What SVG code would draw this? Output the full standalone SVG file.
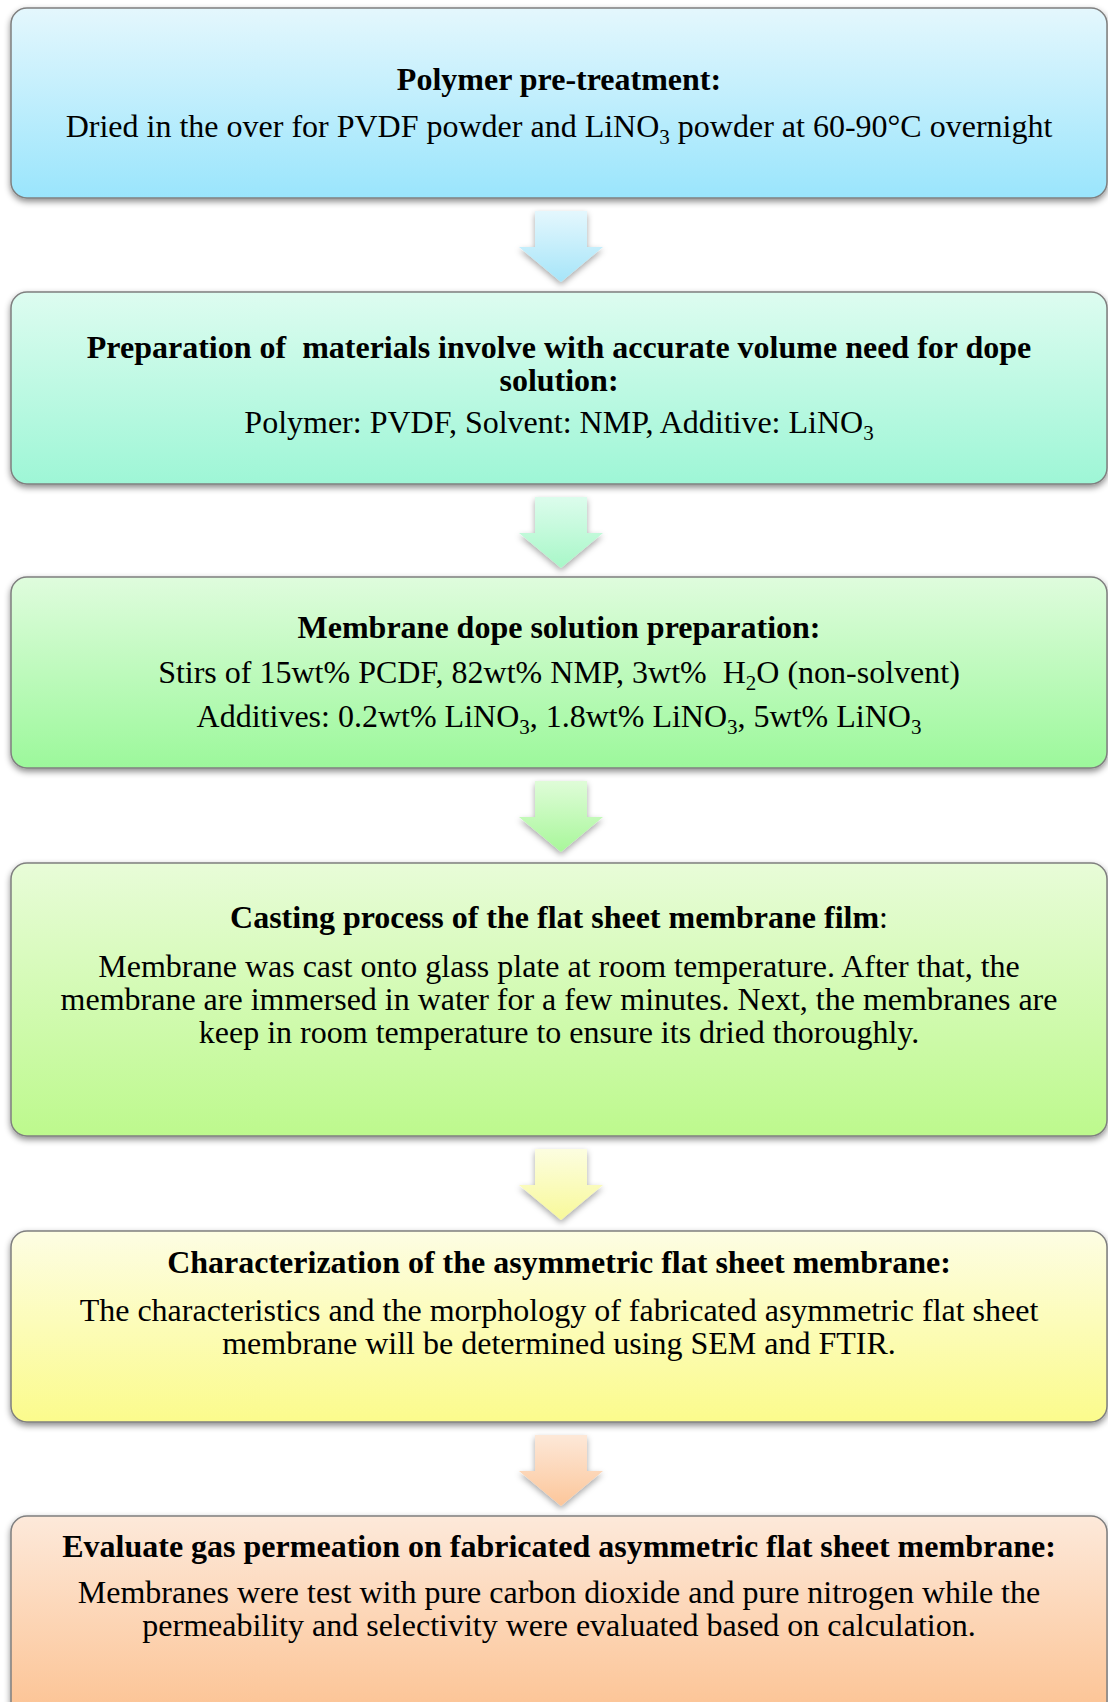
<svg xmlns="http://www.w3.org/2000/svg" width="1108" height="1702" viewBox="0 0 1108 1702">
<style>
text{font-family:"Liberation Serif","Times New Roman",serif;font-size:32px;fill:#000;text-anchor:middle;white-space:pre}
.t{font-weight:bold}
.box{stroke:#7f7f7f;stroke-width:1.5}
.arr{stroke:none}
</style>
<defs>
<filter id="sh" x="-5%" y="-10%" width="110%" height="125%">
<feDropShadow dx="0" dy="3" stdDeviation="3" flood-color="#000" flood-opacity="0.45"/>
</filter>
<filter id="ash" x="-30%" y="-20%" width="160%" height="150%">
<feDropShadow dx="0" dy="3" stdDeviation="3" flood-color="#000" flood-opacity="0.35"/>
</filter>
<linearGradient id="g1" x1="0" y1="0" x2="0" y2="1"><stop offset="0" stop-color="#e4f7fd"/><stop offset="1" stop-color="#9ae5fc"/></linearGradient>
<linearGradient id="g2" x1="0" y1="0" x2="0" y2="1"><stop offset="0" stop-color="#ddfcf0"/><stop offset="1" stop-color="#9ef6d6"/></linearGradient>
<linearGradient id="g3" x1="0" y1="0" x2="0" y2="1"><stop offset="0" stop-color="#dffcdd"/><stop offset="1" stop-color="#9cf89b"/></linearGradient>
<linearGradient id="g4" x1="0" y1="0" x2="0" y2="1"><stop offset="0" stop-color="#e8fcd8"/><stop offset="1" stop-color="#bdf98d"/></linearGradient>
<linearGradient id="g5" x1="0" y1="0" x2="0" y2="1"><stop offset="0" stop-color="#fdfde3"/><stop offset="1" stop-color="#fbfb8c"/></linearGradient>
<linearGradient id="g6" x1="0" y1="0" x2="0" y2="1"><stop offset="0" stop-color="#fde9da"/><stop offset="1" stop-color="#fcc08e"/></linearGradient>
<linearGradient id="a1" x1="0" y1="0" x2="0" y2="1"><stop offset="0" stop-color="#e4f7fd"/><stop offset="1" stop-color="#a6e5f9"/></linearGradient>
<linearGradient id="a2" x1="0" y1="0" x2="0" y2="1"><stop offset="0" stop-color="#dcfcec"/><stop offset="1" stop-color="#a8f7c8"/></linearGradient>
<linearGradient id="a3" x1="0" y1="0" x2="0" y2="1"><stop offset="0" stop-color="#dffcd8"/><stop offset="1" stop-color="#a8f79a"/></linearGradient>
<linearGradient id="a4" x1="0" y1="0" x2="0" y2="1"><stop offset="0" stop-color="#fcfde0"/><stop offset="1" stop-color="#f8f99a"/></linearGradient>
<linearGradient id="a5" x1="0" y1="0" x2="0" y2="1"><stop offset="0" stop-color="#fde8d8"/><stop offset="1" stop-color="#fcc69a"/></linearGradient>
<path id="arrow" d="M-26 0 H26 V36 H42 L0 71 L-42 36 H-26 Z"/>
</defs>
<rect width="1108" height="1702" fill="#fff"/>

<g id="connectors">
<use href="#arrow" x="561" y="211" fill="url(#a1)" filter="url(#ash)"/>
<use href="#arrow" x="561" y="497" fill="url(#a2)" filter="url(#ash)"/>
<use href="#arrow" x="561" y="781" fill="url(#a3)" filter="url(#ash)"/>
<use href="#arrow" x="561" y="1149" fill="url(#a4)" filter="url(#ash)"/>
<use href="#arrow" x="561" y="1435" fill="url(#a5)" filter="url(#ash)"/>
</g>

<g id="node1">
<rect class="box" x="11" y="8" width="1096" height="190" rx="16" fill="url(#g1)" filter="url(#sh)"/>
<text class="t" x="559" y="90">Polymer pre-treatment:</text>
<text x="559" y="137">Dried in the over for PVDF powder and LiNO<tspan font-size="21" dy="7">3</tspan><tspan dy="-7"> powder at 60-90°C overnight</tspan></text>
</g>

<g id="node2">
<rect class="box" x="11" y="292" width="1096" height="192" rx="16" fill="url(#g2)" filter="url(#sh)"/>
<text class="t" x="559" y="358">Preparation of  materials involve with accurate volume need for dope</text>
<text class="t" x="559" y="391">solution:</text>
<text x="559" y="433">Polymer: PVDF, Solvent: NMP, Additive: LiNO<tspan font-size="21" dy="7">3</tspan></text>
</g>

<g id="node3">
<rect class="box" x="11" y="577" width="1096" height="191" rx="16" fill="url(#g3)" filter="url(#sh)"/>
<text class="t" x="559" y="638">Membrane dope solution preparation:</text>
<text x="559" y="683">Stirs of 15wt% PCDF, 82wt% NMP, 3wt%  H<tspan font-size="21" dy="7">2</tspan><tspan dy="-7">O (non-solvent)</tspan></text>
<text x="559" y="727">Additives: 0.2wt% LiNO<tspan font-size="21" dy="7">3</tspan><tspan dy="-7">, 1.8wt% LiNO</tspan><tspan font-size="21" dy="7">3</tspan><tspan dy="-7">, 5wt% LiNO</tspan><tspan font-size="21" dy="7">3</tspan></text>
</g>

<g id="node4">
<rect class="box" x="11" y="863" width="1096" height="273" rx="16" fill="url(#g4)" filter="url(#sh)"/>
<text x="559" y="928"><tspan font-weight="bold">Casting process of the flat sheet membrane film</tspan>:</text>
<text x="559" y="977">Membrane was cast onto glass plate at room temperature. After that, the</text>
<text x="559" y="1010">membrane are immersed in water for a few minutes. Next, the membranes are</text>
<text x="559" y="1043">keep in room temperature to ensure its dried thoroughly.</text>
</g>

<g id="node5">
<rect class="box" x="11" y="1231" width="1096" height="191" rx="16" fill="url(#g5)" filter="url(#sh)"/>
<text class="t" x="559" y="1273">Characterization of the asymmetric flat sheet membrane:</text>
<text x="559" y="1321">The characteristics and the morphology of fabricated asymmetric flat sheet</text>
<text x="559" y="1354">membrane will be determined using SEM and FTIR.</text>
</g>

<g id="node6">
<rect class="box" x="11" y="1516" width="1096" height="215" rx="16" fill="url(#g6)" filter="url(#sh)"/>
<text class="t" x="559" y="1557">Evaluate gas permeation on fabricated asymmetric flat sheet membrane:</text>
<text x="559" y="1603">Membranes were test with pure carbon dioxide and pure nitrogen while the</text>
<text x="559" y="1636">permeability and selectivity were evaluated based on calculation.</text>
</g>
</svg>
